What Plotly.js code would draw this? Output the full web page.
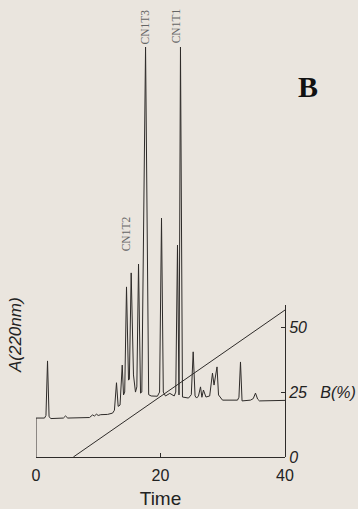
<!DOCTYPE html>
<html>
<head>
<meta charset="utf-8">
<script src="https://cdn.plot.ly/plotly-3.0.1.min.js"></script>
<style>
html,body{margin:0;padding:0;background:#eae5de;}
#chart{width:358px;height:509px;}
</style>
</head>
<body>
<div id="chart"></div>
<script>
// Chromatogram trace (time in min, absorbance in arbitrary units)
var chromTime = [0, 0, 1.37, 1.6, 1.85, 2.1, 2.4, 4.4, 4.74, 5.1, 8.6, 9.08, 9.4, 9.7, 10.0, 10.4, 11.5, 12.3, 12.6, 12.93, 13.2, 13.5, 13.85, 14.06, 14.25, 14.54, 14.86, 15.0, 15.29, 15.66, 15.98, 16.2, 16.47, 16.79, 17.0, 17.6, 18.1, 18.5, 19.5, 19.85, 20.16, 20.45, 20.8, 21.5, 22.2, 22.45, 22.73, 22.97, 23.21, 23.53, 24.5, 24.95, 25.25, 25.55, 25.8, 26.1, 26.43, 26.65, 26.9, 27.3, 27.9, 28.35, 28.6, 28.84, 29.08, 29.32, 29.96, 32.37, 32.6, 32.85, 33.1, 34.46, 34.9, 35.26, 35.6, 35.9, 40];
var chromAbs = [0, 15.0, 15.0, 16, 37.0, 15.5, 14.8, 15.0, 15.8, 15.0, 15.2, 16.2, 15.8, 16.5, 16.0, 16.3, 16.4, 16.9, 18, 28.6, 19.5, 20, 35.4, 23.9, 25, 65.5, 29.6, 30, 70.9, 31.6, 25, 27, 74.3, 24.6, 25, 157.9, 24.0, 23.5, 23.4, 25, 92.0, 25, 23.5, 24.5, 23.5, 25, 81.6, 23.9, 157.9, 23.1, 22.7, 24, 40.5, 23.5, 22.7, 23.5, 27.0, 23.0, 25.8, 23.1, 23.5, 32.3, 27.7, 30.8, 34.7, 23.9, 21.9, 21.9, 23, 36.6, 21.6, 21.9, 22.5, 24.6, 22.3, 21.6, 21.8];

// Solvent B gradient (%)
var gradTime = [6, 40];
var gradB = [0, 56.6];

// Tick labels
var xTicks = [0, 20, 40];
var bTicks = [0, 25, 50];
var bTickText = ['0', '25\u00a0\u00a0\u00a0B(%)', '50'];

// Peak labels
var peakNames = ['CN1T3', 'CN1T1', 'CN1T2'];
var peakTimes = [17.55, 22.55, 14.4];
var peakLabelY = [158, 158.5, 78.5];

var lineCol = '#2e2b29';
var bg = '#eae5de';

var traces = [
  {x: chromTime, y: chromAbs, xaxis: 'x', yaxis: 'y', mode: 'lines',
   line: {color: lineCol, width: 1}, hoverinfo: 'skip', showlegend: false},
  {x: gradTime, y: gradB, xaxis: 'x', yaxis: 'y2', mode: 'lines',
   line: {color: lineCol, width: 1}, hoverinfo: 'skip', showlegend: false}
];

var annotations = [];
for (var i = 0; i < peakNames.length; i++) {
  annotations.push({
    x: peakTimes[i], y: peakLabelY[i], xref: 'x', yref: 'y',
    text: peakNames[i], showarrow: false, textangle: -90,
    xanchor: 'center', yanchor: 'bottom',
    font: {family: 'Liberation Serif, DejaVu Serif, serif', size: 11.5, color: '#666'}
  });
}
annotations.push({
  xref: 'paper', yref: 'paper', x: -0.08, y: 0.267,
  xanchor: 'center', yanchor: 'middle',
  text: 'A(220nm)', showarrow: false, textangle: -90,
  font: {family: 'Liberation Sans, Arial, sans-serif', size: 17, color: '#222', style: 'italic'}
});
annotations.push({
  xref: 'paper', yref: 'paper', x: 1.094, y: 0.8118,
  xanchor: 'center', yanchor: 'middle',
  text: '<b>B</b>', showarrow: false,
  font: {family: 'Liberation Serif, DejaVu Serif, serif', size: 30, color: '#111'}
});

var layout = {
  width: 358, height: 509,
  margin: {l: 36, r: 73, t: 0, b: 52},
  paper_bgcolor: bg, plot_bgcolor: 'rgba(0,0,0,0)',
  showlegend: false,
  xaxis: {
    range: [0, 40], showgrid: false, zeroline: false,
    showline: true, linecolor: lineCol, linewidth: 1,
    ticks: 'inside', ticklen: 4, tickcolor: lineCol,
    tickvals: xTicks, ticktext: xTicks.map(String),
    ticklabelstandoff: 4,
    tickfont: {family: 'Liberation Sans, Arial, sans-serif', size: 16, color: '#222'},
    title: {text: 'Time', standoff: 12, font: {family: 'Liberation Sans, Arial, sans-serif', size: 19, color: '#222'}},
    anchor: 'y', fixedrange: true
  },
  yaxis: {
    range: [0, 176], domain: [0, 1], showgrid: false, zeroline: false,
    showline: false, showticklabels: false, ticks: '', fixedrange: true
  },
  yaxis2: {
    range: [0, 58.5], domain: [0, 0.3324], anchor: 'x', side: 'right',
    showgrid: false, zeroline: false,
    showline: true, linecolor: lineCol, linewidth: 1,
    ticks: 'inside', ticklen: 4, tickcolor: lineCol,
    tickvals: bTicks, ticktext: bTickText,
    tickfont: {family: 'Liberation Sans, Arial, sans-serif', size: 16, color: '#222', style: 'italic'},
    fixedrange: true
  },
  annotations: annotations
};

Plotly.newPlot('chart', traces, layout, {staticPlot: true, displayModeBar: false});
</script>
</body>
</html>
